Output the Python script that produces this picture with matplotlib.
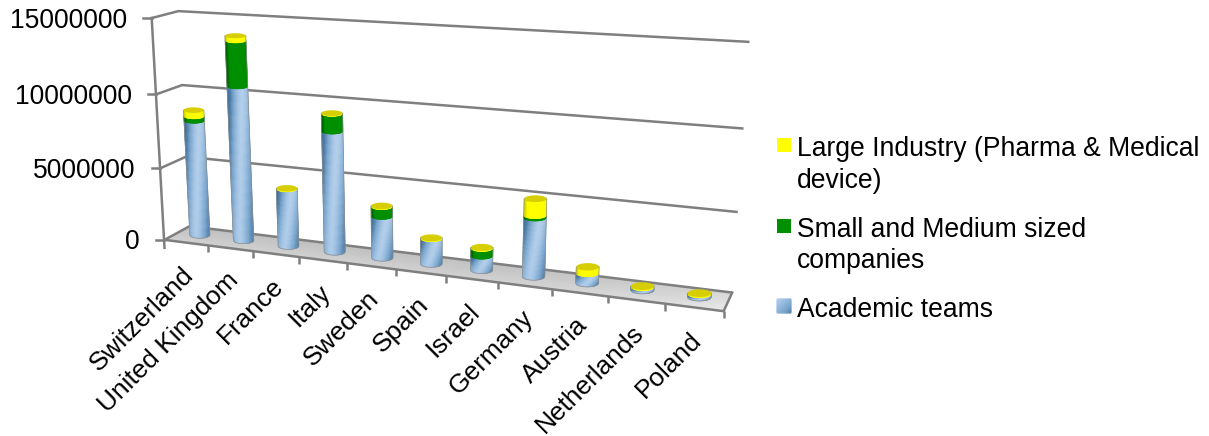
#!/usr/bin/env python3

import numpy as np
import matplotlib
matplotlib.use('Agg')
import matplotlib.pyplot as plt
from matplotlib.collections import PolyCollection
from matplotlib.colors import LinearSegmentedColormap

plt.rcParams['font.family'] = ['Liberation Sans', 'DejaVu Sans']

countries = ['Switzerland', 'United Kingdom', 'France', 'Italy', 'Sweden', 'Spain',
             'Israel', 'Germany', 'Austria', 'Netherlands', 'Poland']
academic = [8000000, 10550000, 3950000, 8100000, 2800000, 1700000,
            950000, 3800000, 650000, 200000, 200000]
small_medium = [300000, 3000000, 0, 1150000, 650000, 0,
                500000, 150000, 0, 0, 0]
large = [400000, 300000, 30000, 20000, 30000, 30000,
         40000, 1050000, 400000, 50000, 50000]
yticks = [0, 5000000, 10000000, 15000000]
legend_lines = [['Large Industry (Pharma & Medical', 'device)'],
                ['Small and Medium sized', 'companies'],
                ['Academic teams']]

GRID = '#7f7f7f'
LW = 1.8
FONT = 19.1
ZMAX = 15000000.0
NCAT = len(countries)
DEPTH = 0.55
SLOT = 0.5

# box corners (category, depth, value/1e6) -> page pixels, used to solve the camera
cal_box = [(0, 0, 0), (NCAT, 0, 0), (0, 1, 0), (NCAT, 1, 0),
           (0, 0, 15), (0, 1, 15), (NCAT, 1, 15),
           (0, 1, 5), (0, 1, 10), (NCAT, 1, 5), (NCAT, 1, 10),
           (0, 0, 5), (0, 0, 10), (3, 0, 0), (6, 0, 0), (9, 0, 0)]
cal_page = [(166, 239), (723, 312), (188, 227), (732, 292),
            (150, 18), (180, 11), (749, 42),
            (185, 157), (183, 85), (738, 212), (744, 128),
            (161, 168), (155.5, 95), (299, 256.4), (447, 275.8), (608, 296.9)]


def solveCamera(box, page):
    rows = []
    for (x, y, z), (u, v) in zip(box, page):
        p = [x, y, z, 1.0]
        rows.append(p + [0, 0, 0, 0] + [-u * c for c in p])
        rows.append([0, 0, 0, 0] + p + [-v * c for c in p])
    _, _, vt = np.linalg.svd(np.array(rows, dtype=float))
    return vt[-1].reshape(3, 4)


CAM = solveCamera(cal_box, cal_page)


def project(x, y, z):
    """category position, depth 0..1, value -> page pixels"""
    x, y, z = np.broadcast_arrays(np.asarray(x, float), np.asarray(y, float), np.asarray(z, float))
    pts = np.stack([x, y, z / 1e6, np.ones_like(x)], axis=-1)
    h = pts @ CAM.T
    return h[..., 0] / h[..., 2], h[..., 1] / h[..., 2]


blueMap = LinearSegmentedColormap.from_list('blue', ['#44739e', '#7aa5cc', '#98bcdf', '#b8d2ec'])
greenMap = LinearSegmentedColormap.from_list('green', ['#006400', '#008a00', '#009000'])
yellowMap = LinearSegmentedColormap.from_list('yellow', ['#d8d800', '#fafa00', '#ffff00'])


def ring(i, z, theta):
    """screen-aligned ellipse of a cylinder at value z"""
    cx, cy = project(i + SLOT, DEPTH, z)
    x0, _ = project(i, DEPTH, z)
    x1, _ = project(i + 1, DEPTH, z)
    w = 5 + 0.118 * (x1 - x0)
    _, yf = project(i + SLOT, 0.0, z)
    _, yb = project(i + SLOT, 1.0, z)
    h = 1.5 + 0.13 * (yf - yb)
    return cx + w * np.cos(theta), cy + h * np.sin(theta)


def cylinderSide(ax, i, z0, z1, cmap, diagonal=False):
    if z1 <= z0:
        return
    # solid silhouette underneath so the cell edges don't show the page through
    half = np.linspace(np.pi, 0, 25)
    bx, by = ring(i, z0, half)
    ex, ey = ring(i, z1, half[::-1])
    ax.fill(np.r_[bx, ex], np.r_[by, ey], color=cmap(0.85), lw=0, zorder=3)
    # columns are even across the screen width, so the shading stays smooth
    ucols = np.linspace(0, 1, 29)
    frac = np.linspace(0, 1, 13 if diagonal else 2)
    th, zf = np.meshgrid(np.arccos(2 * ucols - 1), frac)
    px, py = ring(i, z0 + (z1 - z0) * zf, np.pi - th)
    quads = np.stack([np.stack([px[:-1, :-1], py[:-1, :-1]], -1),
                      np.stack([px[:-1, 1:], py[:-1, 1:]], -1),
                      np.stack([px[1:, 1:], py[1:, 1:]], -1),
                      np.stack([px[1:, :-1], py[1:, :-1]], -1)], axis=2).reshape(-1, 4, 2)
    um, zm = np.meshgrid((ucols[:-1] + ucols[1:]) / 2, (frac[:-1] + frac[1:]) / 2)
    if diagonal:
        centre = 0.72 - 0.42 * zm
        shade = np.exp(-((um - centre) / 0.45) ** 2) - 0.15 * um
    else:
        shade = 1 - np.abs(2 * um - 0.9) ** 4
    colors = cmap(np.clip(shade, 0, 1).ravel())
    ax.add_collection(PolyCollection(quads, facecolors=colors, edgecolors=colors, linewidths=0.4, zorder=3))


def drawCylinder(ax, i):
    a, s, l = academic[i], small_medium[i], large[i]
    cylinderSide(ax, i, 0, a, blueMap, True)
    cylinderSide(ax, i, a, a + s, greenMap)
    cylinderSide(ax, i, a + s, a + s + l, yellowMap)
    total = a + s + l
    theta = np.linspace(0, 2 * np.pi, 49)
    cx, cy = ring(i, total, theta)
    ax.fill(cx, cy, color='#d6ce00', lw=0, zorder=4)
    # thin outline round the visible side
    half = np.linspace(np.pi, 0, 25)
    bx, by = ring(i, 0, half)
    ex, ey = ring(i, total, half)
    ax.plot(np.r_[ex[0], bx, ex[-1]], np.r_[ey[0], by, ey[-1]], color='#8c8c8c', lw=0.5, zorder=4)


def drawBox(ax):
    # floor
    d, dep = np.meshgrid(np.linspace(0, NCAT, 12), np.linspace(0, 1, 3))
    fx, fy = project(d, dep, 0 * d)
    shade = 0.62 - 0.22 * dep + 0.3 * (d / NCAT) ** 6
    floorMap = LinearSegmentedColormap.from_list('floor', ['#a0a0a0', '#f0f0f0'])
    ax.pcolormesh(fx, fy, shade, cmap=floorMap, vmin=0, vmax=1, shading='gouraud', zorder=1)
    for t in yticks:
        ex, ey = project([0, 0, NCAT], [0, 1, 1], [t, t, t])
        ax.plot(ex, ey, color=GRID, lw=LW, solid_capstyle='butt', zorder=2)
        ax.plot([ex[0] - 8.5, ex[0]], [ey[0], ey[0]], color=GRID, lw=LW, zorder=2)
        ax.text(ex[0] - 24.5, ey[0] + 2 + t / ZMAX, str(t), ha='right', va='center',
                fontsize=FONT, color='black')
    # left wall edge and front/right floor edges
    ex, ey = project([0, 0], [0, 0], [0, ZMAX])
    ax.plot([ex[0], ex[1]], [ey[0] + 8, ey[1]], color=GRID, lw=LW, zorder=2)
    ex, ey = project([0, NCAT, NCAT], [0, 0, 1], [0, 0, 0])
    ax.plot(ex, ey, color=GRID, lw=LW, zorder=2)
    for i in range(1, NCAT + 1):
        tx, ty = project(i, 0, 0)
        ax.plot([tx, tx], [ty, ty + 7], color=GRID, lw=LW, solid_capstyle='butt', zorder=2)
    for i, name in enumerate(countries):
        tx, ty = project(i + 0.5, 0, 0)
        ax.text(tx - 4.5, ty + 20, name, rotation=45, rotation_mode='anchor', ha='right', va='top',
                fontsize=18.9, color='black')


def drawLegend(ax):
    swatches = [('#ffff00', 138), ('#008f00', 219), (None, 299)]
    baselines = [[156, 188], [237, 268], [317]]
    for (col, top), lines, bases in zip(swatches, legend_lines, baselines):
        if col:
            ax.fill([777, 791, 791, 777], [top, top, top + 14, top + 14], color=col, lw=0, zorder=3)
        else:
            sx, sy = np.meshgrid(np.linspace(777, 791, 8), np.linspace(top, top + 14, 8))
            sh = np.clip(1 - ((sy - top) + (sx - 777)) / 28 * 0.9, 0, 1)
            ax.pcolormesh(sx, sy, sh, cmap=blueMap, vmin=0, vmax=1, shading='gouraud', zorder=3)
        for text, b in zip(lines, bases):
            ax.text(797, b, text, ha='left', va='baseline', fontsize=FONT, color='black')


def main():
    fig = plt.figure(figsize=(12.09, 4.36), dpi=100)
    ax = fig.add_axes([0, 0, 1, 1])
    drawBox(ax)
    for i in range(NCAT):
        drawCylinder(ax, i)
    drawLegend(ax)
    ax.set_xlim(0, 1209)
    ax.set_ylim(436, 0)
    ax.axis('off')
    fig.savefig('out.png', dpi=100)


if __name__ == '__main__':
    main()
